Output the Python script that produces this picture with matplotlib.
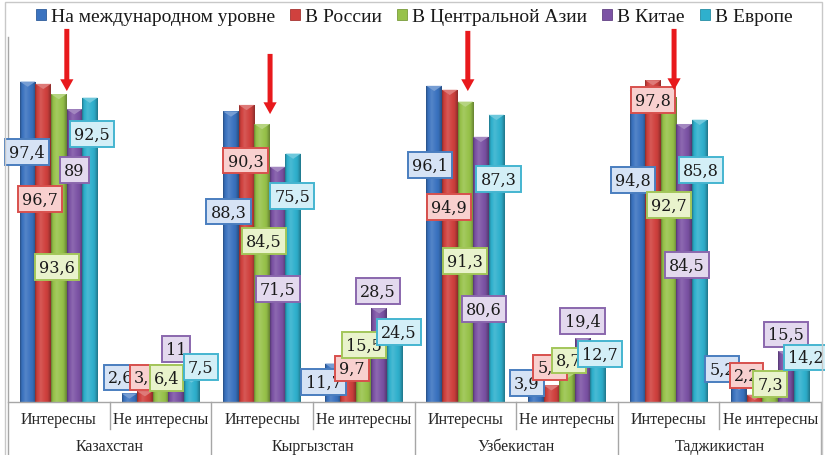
import numpy as np
import matplotlib
matplotlib.use("Agg")
import matplotlib.pyplot as plt
from matplotlib.colors import to_rgb
from matplotlib.patches import Patch, Polygon, Rectangle
from matplotlib.transforms import blended_transform_factory

# ---------------- data ----------------
countries = ['Казахстан', 'Кыргызстан', 'Узбекистан', 'Таджикистан']
attitudes = ['Интересны', 'Не интересны']
series_names = ['На международном уровне', 'В России', 'В Центральной Азии', 'В Китае', 'В Европе']

intl = [97.4, 2.6, 88.3, 11.7, 96.1, 3.9, 94.8, 5.2]
russia = [96.7, 3.3, 90.3, 9.7, 94.9, 5.1, 97.8, 2.2]
central_asia = [93.6, 6.4, 84.5, 15.5, 91.3, 8.7, 92.7, 7.3]
china = [89, 11, 71.5, 28.5, 80.6, 19.4, 84.5, 15.5]
europe = [92.5, 7.5, 75.5, 24.5, 87.3, 12.7, 85.8, 14.2]
values = [intl, russia, central_asia, china, europe]

# ---------------- label placement (data-unit heights, pixel x offsets) ----------------
label_y = [
    [76.0, 7.4, 57.8, 6.1, 72.0, 5.8, 67.5, 10.0],
    [61.7, 7.4, 73.3, 10.2, 59.3, 10.5, 91.8, 8.1],
    [41.0, 7.3, 48.9, 17.3, 42.9, 12.6, 59.9, 5.5],
    [70.5, 16.1, 34.3, 33.7, 28.3, 24.6, 41.6, 20.5],
    [81.5, 10.6, 62.6, 21.3, 67.8, 14.6, 70.5, 13.5],
]
label_dx = [
    [-0.5, -8.5, -2.5, -9, -4, -9, -4.5, -17],
    [-3, 2, -1, 4, -1, -1, 0, -8],
    [-2, 6, 2, 0, 0, 2, 0, 0],
    [0, 0, 0, -1, 3, 0, 3, 0],
    [2, 9, -1, 4, 2, 2, 1, 5],
]
# red arrows above the "Central Asia" bar of each "Интересны" group
arrow_cats = [0, 2, 4, 6]
arrow_tip = [94.5, 87.5, 94.5, 94.8]
arrow_tail = [113.4, 105.8, 112.8, 113.4]
arrow_dx = [8, 8, 2.5, 5.5]

# ---------------- style ----------------
SERIF = ['Liberation Serif', 'DejaVu Serif']
bar_colors = ['#3b73c0', '#d0413e', '#97c24a', '#7c53a5', '#2fb0cd']
edge_colors = ['#4a7ebf', '#d8504d', '#a3c65a', '#8a67ad', '#45b5d0']
box_colors = ['#d6e3f5', '#f8d0cf', '#e9f3cc', '#e3d9ee', '#d3eff7']
W, H, DPI = 825, 456, 100
px_per_cat = 813 / 8.0

fig = plt.figure(figsize=(W / DPI, H / DPI), dpi=DPI)
fig.patch.set_facecolor('white')
ax = fig.add_axes([8 / W, 53 / H, 813 / W, 365.2 / H])
ax.set_facecolor('white')

def shade(c, s):
    c = np.array(to_rgb(c))
    return c + (1 - c) * s if s > 0 else c * (1 + s)

t = np.linspace(0, 1, 40)
svals = np.interp(t, [0, 0.1, 0.35, 0.8, 1], [-0.32, -0.05, 0.13, -0.05, -0.32])

bw = 0.153
x = np.arange(8)
for k in range(5):
    offs = (k - 2) * bw
    bars = ax.bar(x + offs, values[k], width=bw, color=bar_colors[k], zorder=2, linewidth=0)
    img = np.array([shade(bar_colors[k], s) for s in svals])[None, :, :]
    for b in bars:
        x0, w, h = b.get_x(), b.get_width(), b.get_height()
        im = ax.imshow(img, extent=[x0, x0 + w, 0, h], aspect='auto', zorder=2.1,
                       interpolation='bilinear')
        im.set_clip_path(b)
        cap = Polygon([[x0, h], [x0 + w, h], [x0 + w / 2, h - 1.6]], closed=True,
                      facecolor=shade(bar_colors[k], 0.3), edgecolor='none', zorder=2.2)
        ax.add_patch(cap)

# value labels
for i in range(8):
    for k in range(5):
        v = values[k][i]
        txt = f"{v:g}".replace('.', ',')
        xc = i + (k - 2) * bw + label_dx[k][i] / px_per_cat
        ax.text(xc, label_y[k][i], txt, ha='center', va='center', fontsize=11.5,
                family='DejaVu Serif', color='#1a1a1a', zorder=5,
                bbox=dict(boxstyle='square,pad=0.26', facecolor=box_colors[k],
                          edgecolor=edge_colors[k], linewidth=1.4))

# arrows
for c, tip, tail, dx in zip(arrow_cats, arrow_tip, arrow_tail, arrow_dx):
    xa = c + dx / px_per_cat
    ax.annotate('', xy=(xa, tip), xytext=(xa, tail), annotation_clip=False,
                arrowprops=dict(width=3.6, headwidth=9.5, headlength=8.5, shrink=0,
                                color='#e8191c', linewidth=0), zorder=6)

ax.set_xlim(-0.5, 7.5)
ax.set_ylim(0, 111)
ax.set_xticks([])
ax.set_yticks([])
for s in ['top', 'right']:
    ax.spines[s].set_visible(False)
ax.spines['left'].set_visible(False)
ax.spines['bottom'].set_color('#a6a6a6')
ax.spines['bottom'].set_linewidth(1)

trans = blended_transform_factory(ax.transData, ax.transAxes)
for idx in range(9):
    bx = idx - 0.5
    y1 = -0.16 if idx % 2 == 0 else -0.074
    y0 = 1.0 if idx == 0 else 0
    ax.plot([bx, bx], [y0, y1], transform=trans, color='#a6a6a6', lw=1, clip_on=False)

for i in range(8):
    ax.text(i, -0.047, attitudes[i % 2], transform=trans, ha='center', va='center',
            fontsize=11.5, family=SERIF, color='#262626')
for j, cn in enumerate(countries):
    ax.text(2 * j + 0.5, -0.12, cn, transform=trans, ha='center', va='center',
            fontsize=11.5, family=SERIF, color='#262626')

# legend
handles = [Patch(facecolor=bar_colors[k], edgecolor=shade(bar_colors[k], -0.2), linewidth=0.6)
           for k in range(5)]
fig.legend(handles, series_names, loc='center', bbox_to_anchor=(0.502, 1 - 18 / H),
           ncol=5, frameon=False, handlelength=0.5, handleheight=0.5, handletextpad=0.25,
           columnspacing=0.8, prop={'family': SERIF, 'size': 14},
           labelcolor='#1a1a1a')

# outer chart border
fig.patches.append(Rectangle((4.5 / W, -0.05), 817.5 / W, 1.05 - 3 / H, transform=fig.transFigure,
                             fill=False, edgecolor='#c8c8c8', linewidth=1))

fig.savefig('out.png', dpi=DPI)
